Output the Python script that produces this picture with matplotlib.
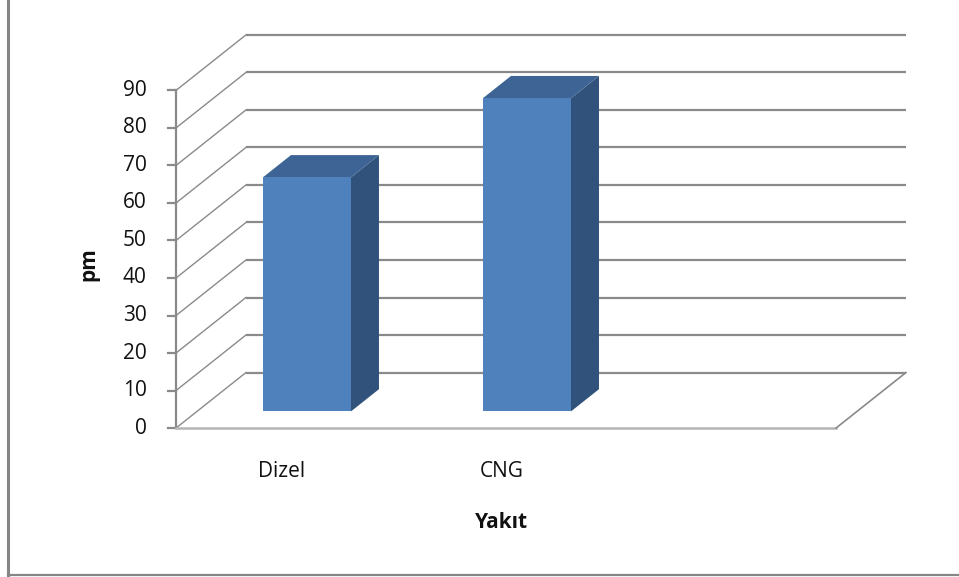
import matplotlib
matplotlib.use("Agg")
from matplotlib import pyplot as plt
from matplotlib.patches import Polygon

plt.rcParams['font.family'] = ['Open Sans', 'DejaVu Sans']

# data
categories = ['Dizel', 'CNG']
values = [62.4, 83.5]
n_slots = 3
yticks = list(range(0, 100, 10))
x_title = 'Yakıt'
y_title = 'pm'

# 3d look: oblique offset of the back wall, in data units
DX = 0.318
DY = 14.8
grid_col = '#8a8a8a'
front_col = '#4f81bd'
side_col = '#31537b'
top_col = '#3d6494'


def proj(x, y, z):
    return x + z * DX, y + z * DY


fig = plt.figure(figsize=(9.59, 5.77), dpi=100)
ax = fig.add_axes([0, 0, 1, 1])
ax.set_xlim(-0.8, 3.559)
ax.set_ylim(-39.7, 114.1)
ax.axis('off')

# back wall gridlines + side wall diagonals
for v in yticks:
    xa, ya = proj(0, v, 1)
    xb, yb = proj(n_slots, v, 1)
    ax.plot([xa, xb], [ya, yb], color=grid_col, lw=1.6, zorder=1,
            solid_capstyle='butt')
    xf, yf = proj(0, v, 0)
    ax.plot([xf, xa], [yf, ya], color=grid_col, lw=1.0, zorder=1)
    # tick mark and label on the front axis
    ax.plot([xf - 0.036, xf], [yf, yf], color=grid_col, lw=1.6, zorder=2)
    ax.annotate(str(v), xy=(xf, yf), xytext=(-21, 0), textcoords='offset points',
                ha='right', va='center', fontsize=15, color='#111111')

# front value axis
x0, y0 = proj(0, 0, 0)
x1, y1 = proj(0, yticks[-1], 0)
ax.plot([x0, x1], [y0, y1], color=grid_col, lw=1.6, zorder=2)

# floor outline
fx0, fy0 = proj(0, 0, 0)
fx1, fy1 = proj(n_slots, 0, 0)
bx1, by1 = proj(n_slots, 0, 1)
ax.plot([fx0, fx1], [fy0, fy1], color='#b5b5b5', lw=1.8, zorder=2)
ax.plot([fx1, bx1], [fy1, by1], color=grid_col, lw=1.2, zorder=2)

# bars
z0, z1 = 0.3, 0.7
for i, (cat, v) in enumerate(zip(categories, values)):
    xl, xr = i + 0.3, i + 0.7
    front = [proj(xl, 0, z0), proj(xr, 0, z0), proj(xr, v, z0), proj(xl, v, z0)]
    side = [proj(xr, 0, z0), proj(xr, 0, z1), proj(xr, v, z1), proj(xr, v, z0)]
    top = [proj(xl, v, z0), proj(xr, v, z0), proj(xr, v, z1), proj(xl, v, z1)]
    ax.add_patch(Polygon(side, closed=True, facecolor=side_col, edgecolor='none', zorder=3))
    ax.add_patch(Polygon(top, closed=True, facecolor=top_col, edgecolor='none', zorder=3))
    ax.add_patch(Polygon(front, closed=True, facecolor=front_col, edgecolor='none', zorder=4))
    cx, cy = proj(i + 0.5, 0, 0)
    ax.annotate(cat, xy=(cx, cy), xytext=(-3, -31), textcoords='offset points',
                ha='center', va='center', fontsize=15, color='#111111')

# axis titles
fig.text(0.523, 0.095, x_title, ha='center', va='center', fontsize=15,
         fontweight='bold', color='#111111')
fig.text(0.093, 0.542, y_title, ha='center', va='center', fontsize=15,
         fontweight='bold', rotation=90, color='#111111')

# chart area border (left and bottom visible)
fig.add_artist(plt.Line2D([7.5 / 959, 7.5 / 959], [2 / 577, 1], color='#868686',
                          lw=2.2, transform=fig.transFigure))
fig.add_artist(plt.Line2D([7.5 / 959, 1], [2 / 577, 2 / 577], color='#868686',
                          lw=1.6, transform=fig.transFigure))

fig.savefig('out.png', dpi=100)
